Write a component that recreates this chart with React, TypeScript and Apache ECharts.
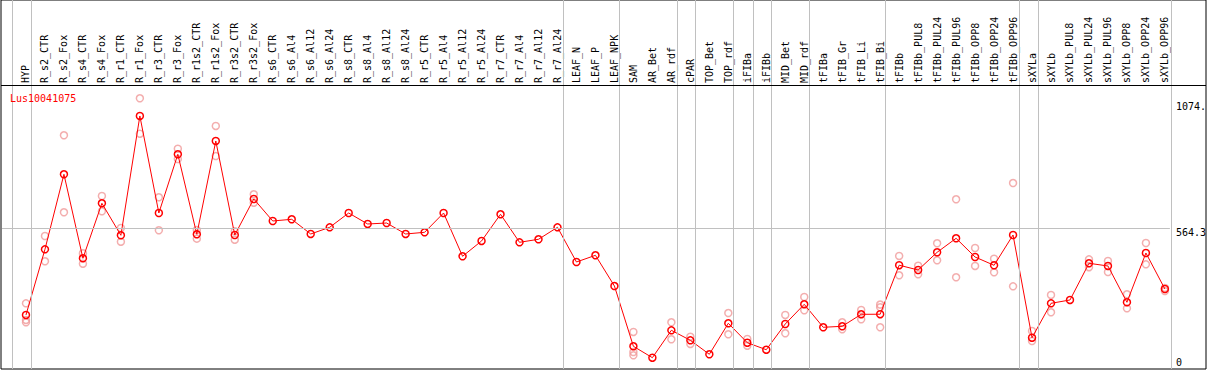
import React, { useEffect, useRef } from "react";
import * as echarts from "echarts";

const geneId = "Lus10041075";

const categories = [
  "HYP", "R_s2_CTR", "R_s2_Fox", "R_s4_CTR", "R_s4_Fox", "R_r1_CTR", "R_r1_Fox", "R_r3_CTR", "R_r3_Fox",
  "R_r1s2_CTR", "R_r1s2_Fox", "R_r3s2_CTR", "R_r3s2_Fox", "R_s6_CTR", "R_s6_Al4", "R_s6_Al12", "R_s6_Al24",
  "R_s8_CTR", "R_s8_Al4", "R_s8_Al12", "R_s8_Al24", "R_r5_CTR", "R_r5_Al4", "R_r5_Al12", "R_r5_Al24",
  "R_r7_CTR", "R_r7_Al4", "R_r7_Al12", "R_r7_Al24", "LEAF_N", "LEAF_P", "LEAF_NPK", "SAM", "AR_Bet", "AR_rdf",
  "cPAR", "TOP_Bet", "TOP_rdf", "iFIBa", "iFIBb", "MID_Bet", "MID_rdf", "tFIBa", "tFIB_Gr", "tFIB_Li", "tFIB_Bi",
  "tFIBb", "tFIBb_PUL8", "tFIBb_PUL24", "tFIBb_PUL96", "tFIBb_OPP8", "tFIBb_OPP24", "tFIBb_OPP96", "sXYLa",
  "sXYLb", "sXYLb_PUL8", "sXYLb_PUL24", "sXYLb_PUL96", "sXYLb_OPP8", "sXYLb_OPP24", "sXYLb_OPP96",
];

const meanValues = [
  186.7, 471.8, 797.4, 432.8, 671.5, 532.6, 1050.5, 629.4, 884.2,
  537.0, 942.0, 533.9, 690.2, 594.7, 602.1, 538.3, 567.3,
  629.4, 581.7, 586.0, 538.3, 545.6, 629.4, 441.5, 507.9,
  623.8, 502.2, 515.3, 567.3, 416.7, 445.8, 312.5, 50.8, 1.3, 120.2,
  76.8, 16.1, 150.6, 66.4, 36.0, 147.6, 233.1, 133.3, 137.6, 189.7, 190.0,
  402.8, 382.0, 458.8, 519.6, 438.4, 402.4, 533.9, 88.1,
  237.4, 251.8, 411.1, 399.4, 241.8, 455.8, 299.5,
];

const replicateA = [
  237.4, 529.6, 966.7, 454.5, 703.2, 564.3, 1127.3, 697.6, 908.5,
  555.6, 1007.1, 550.0, 710.6, null, null, null, null,
  null, null, null, null, null, null, null, null,
  null, null, null, null, null, null, null, 112.9, null, 155.0,
  92.5, null, 195.3, 82.5, null, 186.7, 264.8, null, 155.0, 208.4, 232.2,
  442.8, 400.7, 497.9, 688.9, 477.5, 431.0, 759.6, 117.2,
  273.5, null, 428.4, 421.1, 276.5, 499.2, 303.9,
];

const replicateB = [
  165.0, 419.8, 632.5, 409.3, 636.8, 504.8, 973.6, 554.3, 863.8,
  517.9, 876.8, 513.5, 674.1, null, null, null, null,
  null, null, null, null, null, null, null, null,
  null, null, null, null, null, null, null, 26.0, null, 81.2,
  60.8, null, 102.9, 53.4, null, 107.2, 207.1, null, 124.6, 168.0, 133.3,
  359.0, 363.3, 424.1, 350.3, 399.4, 372.0, 311.2, 73.8,
  198.4, null, 394.0, 373.3, 215.7, 406.7, 290.8,
];

const replicateC = [
  155.0, null, null, null, null, null, null, null, null,
  null, null, null, null, null, null, null, null,
  null, null, null, null, null, null, null, null,
  null, null, null, null, null, null, null, 11.7, null, null,
  null, null, null, null, null, null, null, null, null, null, 220.1,
  null, null, null, null, null, null, null, null,
  null, null, null, null, null, null, null,
];

// index of the last category of each sample group (-1 = before the first)
const groupEnds = [-1, 0, 28, 31, 34, 35, 37, 38, 39, 41, 45, 52, 53, 60];

const yTickValues = [0, 564.3, 1074];
const yTickLabels = ["0", "564.3", "1074."];
const referenceLineValue = 564.3;

// ---- layout ----
const W = 1209;
const H = 370;
const CAT_STEP = 19;
const FIRST_X = 26;
const PLOT_LEFT = 2;
const PLOT_RIGHT = 1171;
const PLOT_TOP = 85;
const PLOT_BOTTOM = 369;
const ZERO_Y = 358;
const REF_Y = 228;
const FRAME_LEFT = 1;
const FRAME_RIGHT = 1206;
const FRAME_TOP = 0;
const FRAME_BOTTOM = 369;
const MONO = "'DejaVu Sans Mono', 'Liberation Mono', monospace";

const pxPerUnit = (ZERO_Y - REF_Y) / referenceLineValue;
const yMax0 = (ZERO_Y - PLOT_TOP) / pxPerUnit;
const yMin0 = (ZERO_Y - PLOT_BOTTOM) / pxPerUnit;
const xMin0 = (PLOT_LEFT - FIRST_X) / CAT_STEP;
const xMax0 = (PLOT_RIGHT - FIRST_X) / CAT_STEP;
const xMin1 = (FRAME_LEFT - FIRST_X) / CAT_STEP;
const xMax1 = (FRAME_RIGHT - FIRST_X) / CAT_STEP;

function repPoints(arr: (number | null)[]) {
  const out: number[][] = [];
  arr.forEach((v, i) => {
    if (v !== null && v !== undefined) out.push([i, v]);
  });
  return out;
}

export default function App() {
  const ref = useRef<HTMLDivElement>(null);

  useEffect(() => {
    if (!ref.current) return;
    const chart = echarts.init(ref.current, null, { renderer: "svg", width: W, height: H });
    const replicateData = [...repPoints(replicateA), ...repPoints(replicateB), ...repPoints(replicateC)];
    const maxTick = Math.max(...yTickValues);

    const option: any = {
      animation: false,
      backgroundColor: "#ffffff",
      title: {
        text: geneId,
        left: 10,
        top: 93,
        padding: 0,
        textStyle: { color: "#ff0000", fontSize: 10, fontWeight: "normal", fontFamily: MONO },
      },
      grid: [
        { left: PLOT_LEFT, right: W - PLOT_RIGHT, top: PLOT_TOP, bottom: H - PLOT_BOTTOM },
        {
          left: FRAME_LEFT, right: W - FRAME_RIGHT, top: FRAME_TOP, bottom: H - FRAME_BOTTOM,
          show: true, borderColor: "#000000", borderWidth: 1, backgroundColor: "rgba(0,0,0,0)",
        },
      ],
      xAxis: [
        {
          type: "value", gridIndex: 0, position: "top", min: xMin0, max: xMax0,
          axisLine: { show: false }, axisTick: { show: false }, splitLine: { show: false },
          axisLabel: {
            customValues: categories.map((_, i) => i),
            rotate: 90, margin: 2, hideOverlap: false,
            formatter: (v: number) => categories[Math.round(v)] ?? "",
            fontFamily: MONO, fontSize: 10, color: "#000000",
          },
        },
        { type: "value", gridIndex: 1, min: xMin1, max: xMax1, show: false },
      ],
      yAxis: [
        {
          type: "value", gridIndex: 0, position: "right", min: yMin0, max: yMax0,
          axisLine: { show: false }, axisTick: { show: false }, splitLine: { show: false },
          axisLabel: {
            customValues: yTickValues,
            formatter: (v: number) => {
              const k = yTickValues.findIndex((t) => Math.abs(t - v) < 1e-6);
              if (k < 0) return "";
              return yTickValues[k] === maxTick ? `{hi|${yTickLabels[k]}}` : `{lo|${yTickLabels[k]}}`;
            },
            verticalAlign: "middle", margin: 6, fontFamily: MONO, fontSize: 10, color: "#000000",
            rich: {
              hi: { fontFamily: MONO, fontSize: 10, color: "#000000", lineHeight: 12, padding: [0, 0, 8, 0] },
              lo: { fontFamily: MONO, fontSize: 10, color: "#000000", lineHeight: 12, padding: [8, 0, 0, 0] },
            },
          },
        },
        { type: "value", gridIndex: 1, min: 0, max: 1, show: false },
      ],
      graphic: [
        {
          type: "line", z: 10,
          shape: { x1: FRAME_LEFT, y1: PLOT_TOP + 0.5, x2: FRAME_RIGHT, y2: PLOT_TOP + 0.5 },
          style: { stroke: "#000000", lineWidth: 1 },
        },
      ],
      series: [
        {
          type: "scatter", xAxisIndex: 1, yAxisIndex: 1, data: [], silent: true, z: 1,
          markLine: {
            silent: true, symbol: "none", label: { show: false }, animation: false,
            lineStyle: { color: "#c0c0c0", width: 1, type: "solid" },
            data: groupEnds.map((g) => ({ xAxis: g + 0.25 })),
          },
        },
        {
          type: "scatter", xAxisIndex: 0, yAxisIndex: 0, data: [], silent: true, z: 1,
          markLine: {
            silent: true, symbol: "none", label: { show: false }, animation: false,
            lineStyle: { color: "#c0c0c0", width: 1, type: "solid" },
            data: [{ yAxis: referenceLineValue }],
          },
        },
        {
          type: "scatter", xAxisIndex: 0, yAxisIndex: 0, data: replicateData, silent: true, z: 2,
          symbol: "circle", symbolSize: 7,
          itemStyle: { color: "rgba(0,0,0,0)", borderColor: "#f09a9a", borderWidth: 1.5 },
        },
        {
          type: "line", xAxisIndex: 0, yAxisIndex: 0, silent: true, z: 3,
          data: meanValues.map((v, i) => [i, v]),
          symbol: "circle", symbolSize: 7, showAllSymbol: true,
          itemStyle: { color: "rgba(0,0,0,0)", borderColor: "#ff0000", borderWidth: 1.5 },
          lineStyle: { color: "#ff0000", width: 1 },
        },
      ],
    };
    chart.setOption(option);
    return () => chart.dispose();
  }, []);

  return (
    <div
      ref={ref}
      style={{ position: "fixed", left: 0, top: 0, width: W, height: H, background: "#ffffff" }}
    />
  );
}
